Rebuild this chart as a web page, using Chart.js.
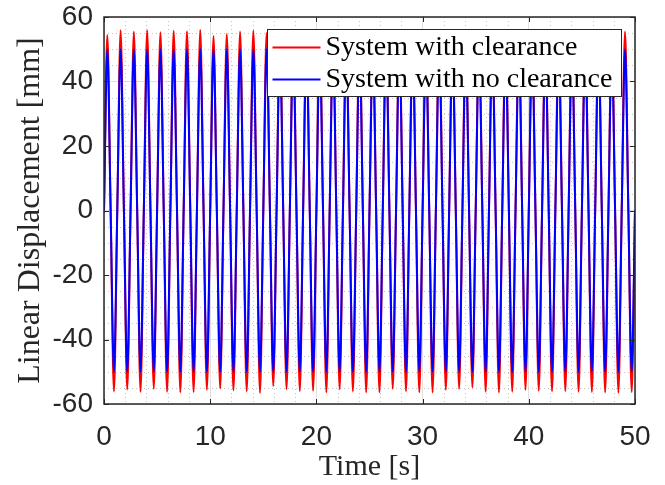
<!DOCTYPE html>
<html>
<head>
<meta charset="utf-8">
<script src="https://cdn.jsdelivr.net/npm/chart.js@4.4.1/dist/chart.umd.min.js"></script>
<style>
  body { margin: 0; background: #fff; }
  canvas { display: block; }
</style>
</head>
<body>
<canvas id="chart" width="665" height="485"></canvas>
<script>
// sample times [s]: zero, peak, zero, trough of each cycle
const timeS = [
  0, 0.3125, 0.625, 0.9375, 1.25, 1.5625, 1.875, 2.1875, 2.5, 2.8125, 3.125, 3.4375, 3.75, 4.0625, 4.375, 4.6875,
  5, 5.3125, 5.625, 5.9375, 6.25, 6.5625, 6.875, 7.1875, 7.5, 7.8125, 8.125, 8.4375, 8.75, 9.0625, 9.375, 9.6875,
  10, 10.3125, 10.625, 10.9375, 11.25, 11.5625, 11.875, 12.1875, 12.5, 12.8125, 13.125, 13.4375, 13.75, 14.0625, 14.375, 14.6875,
  15, 15.3125, 15.625, 15.9375, 16.25, 16.5625, 16.875, 17.1875, 17.5, 17.8125, 18.125, 18.4375, 18.75, 19.0625, 19.375, 19.6875,
  20, 20.3125, 20.625, 20.9375, 21.25, 21.5625, 21.875, 22.1875, 22.5, 22.8125, 23.125, 23.4375, 23.75, 24.0625, 24.375, 24.6875,
  25, 25.3125, 25.625, 25.9375, 26.25, 26.5625, 26.875, 27.1875, 27.5, 27.8125, 28.125, 28.4375, 28.75, 29.0625, 29.375, 29.6875,
  30, 30.3125, 30.625, 30.9375, 31.25, 31.5625, 31.875, 32.1875, 32.5, 32.8125, 33.125, 33.4375, 33.75, 34.0625, 34.375, 34.6875,
  35, 35.3125, 35.625, 35.9375, 36.25, 36.5625, 36.875, 37.1875, 37.5, 37.8125, 38.125, 38.4375, 38.75, 39.0625, 39.375, 39.6875,
  40, 40.3125, 40.625, 40.9375, 41.25, 41.5625, 41.875, 42.1875, 42.5, 42.8125, 43.125, 43.4375, 43.75, 44.0625, 44.375, 44.6875,
  45, 45.3125, 45.625, 45.9375, 46.25, 46.5625, 46.875, 47.1875, 47.5, 47.8125, 48.125, 48.4375, 48.75, 49.0625, 49.375, 49.6875,
  50
];

// System with clearance: peak / trough of each of the 40 cycles [mm]
const redPeaks = [
  54.4, 55.9, 55.5, 55.9, 55.3, 55.7, 55.6, 56.0, 54.1, 54.7,
  55.5, 55.8, 55.0, 55.2, 54.8, 56.0, 55.1, 55.9, 54.6, 55.3,
  55.0, 56.0, 54.9, 55.4, 54.7, 55.9, 55.2, 56.0, 54.8, 55.3,
  55.1, 55.9, 54.6, 55.4, 55.0, 56.0, 55.2, 55.9, 54.9, 55.5
];
const redTroughs = [
  -56.1, -55.5, -56.2, -55.3, -56.2, -56.4, -56.3, -55.6, -55.2, -55.8,
  -56.1, -56.6, -54.4, -55.4, -56.0, -55.9, -56.4, -55.4, -56.1, -56.4,
  -56.4, -55.3, -56.1, -56.4, -56.4, -55.6, -55.3, -54.9, -56.2, -56.4,
  -56.2, -55.6, -55.9, -56.1, -56.0, -56.2, -56.3, -56.4, -56.5, -56.3
];

// System with no clearance
const bluePeaks = [
  50, 50, 50, 50, 50, 50, 50, 50, 50, 50,
  50, 50, 50, 50, 50, 50, 50, 50, 50, 50,
  50, 50, 50, 50, 50, 50, 50, 50, 50, 50,
  50, 50, 50, 50, 50, 50, 50, 50, 50, 50
];
const blueTroughs = [
  -50, -50, -50, -50, -50, -50, -50, -50, -50, -50,
  -50, -50, -50, -50, -50, -50, -50, -50, -50, -50,
  -50, -50, -50, -50, -50, -50, -50, -50, -50, -50,
  -50, -50, -50, -50, -50, -50, -50, -50, -50, -50
];

const seriesNames = ['System with clearance', 'System with no clearance'];
const xTickValues = [0, 10, 20, 30, 40, 50];
const yTickValues = [-60, -40, -20, 0, 20, 40, 60];

const AXIS_COLOR = '#262626';
const SANS = "'Liberation Sans', Arial, Helvetica, sans-serif";
const SERIF = "'Liberation Serif', 'Times New Roman', serif";

// time, peak/trough arrays -> {x, y} points
function buildPoints(peaks, troughs) {
  return timeS.map((t, i) => {
    const k = Math.floor(i / 4);
    const phase = i % 4;
    let y = 0;
    if (phase === 1) y = peaks[k];
    if (phase === 3) y = troughs[k];
    return { x: t, y: y };
  });
}

// dotted minor grid
const minorGrid = {
  id: 'minorGrid',
  beforeDatasetsDraw(chart) {
    const { ctx, chartArea: a, scales } = chart;
    ctx.save();
    ctx.strokeStyle = '#c4c4c4';
    ctx.lineWidth = 1;
    ctx.setLineDash([1, 3]);
    for (let v = 2; v < 50; v += 2) {
      if (v % 10 === 0) continue;
      const x = Math.round(scales.x.getPixelForValue(v)) + 0.5;
      ctx.beginPath(); ctx.moveTo(x, a.top); ctx.lineTo(x, a.bottom); ctx.stroke();
    }
    for (let v = -55; v < 60; v += 5) {
      if (v % 20 === 0) continue;
      const y = Math.round(scales.y.getPixelForValue(v)) + 0.5;
      ctx.beginPath(); ctx.moveTo(a.left, y); ctx.lineTo(a.right, y); ctx.stroke();
    }
    ctx.restore();
  }
};

// legend box + axes frame with inward ticks
const frameAndLegend = {
  id: 'frameAndLegend',
  afterDatasetsDraw(chart) {
    const { ctx, chartArea: a, scales } = chart;
    ctx.save();

    // legend
    const lw = 354, lh = 67;
    const lx = Math.round(a.right - 14 - lw) + 0.5;
    const ly = Math.round(a.top + 12) + 0.5;
    ctx.fillStyle = '#fff';
    ctx.fillRect(lx, ly, lw, lh);
    ctx.strokeStyle = AXIS_COLOR;
    ctx.lineWidth = 1;
    ctx.strokeRect(lx, ly, lw, lh);
    const colors = chart.data.datasets.map(d => d.borderColor);
    ctx.font = '28px ' + SERIF;
    ctx.textBaseline = 'middle';
    ctx.textAlign = 'left';
    seriesNames.forEach((name, i) => {
      const ry = ly + 18 + i * 32;
      ctx.strokeStyle = colors[i];
      ctx.lineWidth = 2;
      ctx.beginPath(); ctx.moveTo(lx + 5, ry); ctx.lineTo(lx + 53, ry); ctx.stroke();
      ctx.fillStyle = '#000';
      ctx.fillText(name, lx + 58, ry);
    });

    // frame
    ctx.strokeStyle = AXIS_COLOR;
    ctx.lineWidth = 1.5;
    ctx.strokeRect(a.left, a.top, a.right - a.left, a.bottom - a.top);
    ctx.lineWidth = 1;
    xTickValues.forEach(v => {
      const x = Math.round(scales.x.getPixelForValue(v)) + 0.5;
      ctx.beginPath();
      ctx.moveTo(x, a.bottom); ctx.lineTo(x, a.bottom - 5);
      ctx.moveTo(x, a.top); ctx.lineTo(x, a.top + 5);
      ctx.stroke();
    });
    yTickValues.forEach(v => {
      const y = Math.round(scales.y.getPixelForValue(v)) + 0.5;
      ctx.beginPath();
      ctx.moveTo(a.left, y); ctx.lineTo(a.left + 5, y);
      ctx.moveTo(a.right, y); ctx.lineTo(a.right - 5, y);
      ctx.stroke();
    });
    ctx.restore();
  }
};

const ctx = document.getElementById('chart').getContext('2d');
const chart = new Chart(ctx, {
  type: 'line',
  data: {
    datasets: [{
      label: seriesNames[0],
      data: buildPoints(redPeaks, redTroughs),
      borderColor: '#ff0000',
      borderWidth: 2,
      pointRadius: 0,
      cubicInterpolationMode: 'monotone',
      order: 1
    }, {
      label: seriesNames[1],
      data: buildPoints(bluePeaks, blueTroughs),
      borderColor: '#0000ff',
      borderWidth: 2,
      pointRadius: 0,
      cubicInterpolationMode: 'monotone',
      order: 0
    }]
  },
  options: {
    responsive: false,
    devicePixelRatio: 1,
    animation: false,
    events: [],
    layout: { padding: { top: 17, right: 30, left: 0, bottom: 0 } },
    plugins: {
      legend: { display: false },
      tooltip: { enabled: false }
    },
    scales: {
      x: {
        type: 'linear',
        min: 0,
        max: 50,
        afterFit: s => { s.height = 81; s.paddingLeft = 0; s.paddingRight = 0; },
        afterBuildTicks: s => { s.ticks = xTickValues.map(v => ({ value: v })); },
        ticks: {
          color: AXIS_COLOR,
          font: { family: SANS, size: 28 },
          padding: 16,
          maxRotation: 0
        },
        grid: { color: '#e0e0e0', lineWidth: 1, drawTicks: false },
        border: { display: false },
        title: {
          display: true,
          text: 'Time [s]',
          color: AXIS_COLOR,
          font: { family: SERIF, size: 30 },
          padding: { top: 0, bottom: 0 }
        }
      },
      y: {
        type: 'linear',
        min: -60,
        max: 60,
        afterFit: s => { s.width = 104; s.paddingTop = 0; s.paddingBottom = 0; },
        afterBuildTicks: s => { s.ticks = yTickValues.map(v => ({ value: v })); },
        ticks: {
          color: AXIS_COLOR,
          font: { family: SANS, size: 28 },
          padding: 11
        },
        grid: { color: '#e0e0e0', lineWidth: 1, drawTicks: false },
        border: { display: false },
        title: {
          display: true,
          text: 'Linear Displacement [mm]',
          color: AXIS_COLOR,
          font: { family: SERIF, size: 32 },
          padding: { top: 11, bottom: 0 }
        }
      }
    }
  },
  plugins: [minorGrid, frameAndLegend]
});
</script>
</body>
</html>
